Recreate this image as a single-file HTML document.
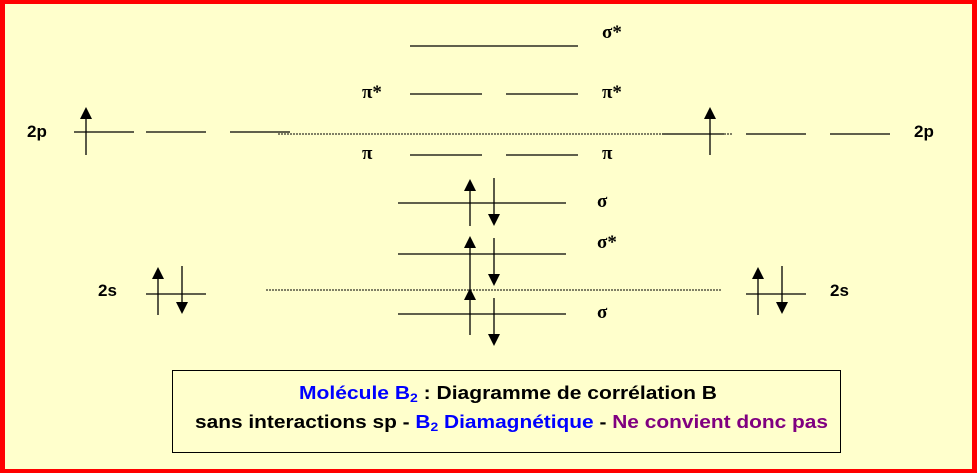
<!DOCTYPE html>
<html><head><meta charset="utf-8"><style>
html,body{margin:0;padding:0;}
body{width:977px;height:473px;overflow:hidden;}
svg{display:block;}
text{font-family:"Liberation Sans",sans-serif;font-weight:bold;}
.g{font-family:"Liberation Serif",serif;font-weight:bold;font-size:19px;}
</style></head><body>
<svg width="977" height="473" viewBox="0 0 977 473" xmlns="http://www.w3.org/2000/svg">
<rect x="0" y="0" width="977" height="473" fill="#ff0000"/>
<rect x="5" y="4" width="967" height="465" fill="#ffffcc"/>
<g stroke="#000" stroke-width="1.3">
<line x1="410" y1="46" x2="578" y2="46"/>
<line x1="410" y1="94" x2="482" y2="94"/><line x1="506" y1="94" x2="578" y2="94"/>
<line x1="410" y1="155" x2="482" y2="155"/><line x1="506" y1="155" x2="578" y2="155"/>
<line x1="74" y1="132" x2="134" y2="132"/><line x1="146" y1="132" x2="206" y2="132"/><line x1="230" y1="132" x2="290" y2="132"/>
<line x1="662" y1="134" x2="724" y2="134"/><line x1="746" y1="134" x2="806" y2="134"/><line x1="830" y1="134" x2="890" y2="134"/>
<line x1="398" y1="203" x2="566" y2="203"/>
<line x1="398" y1="254" x2="566" y2="254"/>
<line x1="398" y1="314" x2="566" y2="314"/>
<line x1="146" y1="294" x2="206" y2="294"/>
<line x1="746" y1="294" x2="806" y2="294"/>
<line x1="86" y1="118" x2="86" y2="155"/>
<line x1="710" y1="118" x2="710" y2="155"/>
<line x1="470" y1="190" x2="470" y2="226"/><line x1="494" y1="178" x2="494" y2="214"/>
<line x1="470" y1="247" x2="470" y2="290"/><line x1="494" y1="238" x2="494" y2="274"/>
<line x1="470" y1="300" x2="470" y2="335"/><line x1="494" y1="298" x2="494" y2="334"/>
<line x1="158" y1="279" x2="158" y2="315"/><line x1="182" y1="266" x2="182" y2="302"/>
<line x1="758" y1="279" x2="758" y2="315"/><line x1="782" y1="266" x2="782" y2="302"/>
</g>
<g stroke="#000" stroke-width="1" stroke-dasharray="2,1">
<line x1="278" y1="134" x2="662" y2="134"/>
<line x1="724" y1="134" x2="733" y2="134"/>
<line x1="266" y1="290" x2="721" y2="290"/>
</g>
<g fill="#000">
<polygon points="86,107 80,119 92,119"/>
<polygon points="710,107 704,119 716,119"/>
<polygon points="470,179 464,191 476,191"/><polygon points="494,226 488,214 500,214"/>
<polygon points="470,236 464,248 476,248"/><polygon points="494,286 488,274 500,274"/>
<polygon points="470,288 464,300 476,300"/><polygon points="494,346 488,334 500,334"/>
<polygon points="158,267 152,279 164,279"/><polygon points="182,314 176,302 188,302"/>
<polygon points="758,267 752,279 764,279"/><polygon points="782,314 776,302 788,302"/>
</g>
<g fill="#000">
<text x="602" y="38" class="g">σ*</text>
<text x="362" y="98" class="g">π*</text><text x="602" y="98" class="g">π*</text>
<text x="362" y="159" class="g">π</text><text x="602" y="159" class="g">π</text>
<text x="597" y="207" class="g">σ</text>
<text x="597" y="248" class="g">σ*</text>
<text x="597" y="318" class="g">σ</text>
</g>
<g font-size="17" fill="#000">
<text x="27" y="137">2p</text><text x="914" y="137">2p</text>
<text x="98" y="296">2s</text><text x="830" y="296">2s</text>
</g>
<rect x="172.5" y="370.5" width="668" height="82" fill="none" stroke="#000" stroke-width="1"/>
<g font-size="18">
<text x="299" y="399" textLength="418" lengthAdjust="spacingAndGlyphs"><tspan fill="#0000ff">Molécule B<tspan font-size="12" dy="3">2</tspan></tspan><tspan dy="-3" fill="#000"> : Diagramme  de corrélation B</tspan></text>
<text x="195" y="428" textLength="633" lengthAdjust="spacingAndGlyphs"><tspan fill="#000">sans interactions sp -  </tspan><tspan fill="#0000ff">B<tspan font-size="12" dy="3">2</tspan><tspan dy="-3"> Diamagnétique</tspan></tspan><tspan fill="#000"> - </tspan><tspan fill="#800080">Ne convient donc pas</tspan></text>
</g>
</svg>
</body></html>
